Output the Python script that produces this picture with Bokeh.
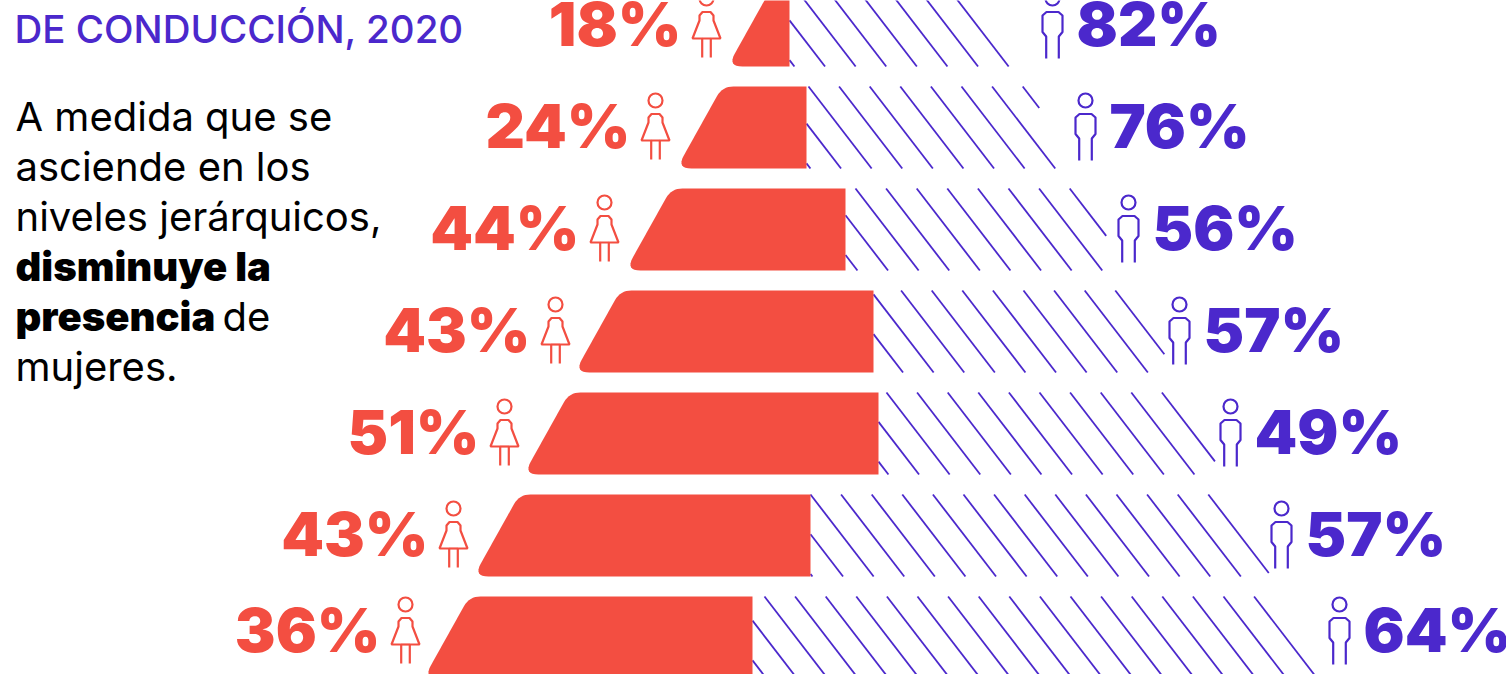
import math
from bokeh.plotting import figure
from bokeh.embed import file_html
from bokeh.resources import INLINE
from bokeh.core.properties import value
from bokeh.models import Range1d

women_pct = ["18%", "24%", "44%", "43%", "51%", "43%", "36%"]
men_pct = ["82%", "76%", "56%", "57%", "49%", "57%", "64%"]
women_width = [57, 125, 215, 294, 350, 332, 324]
men_width = [226, 263, 278, 300, 343, 460, 573]
women_start = [732, 681, 630, 579, 528, 478, 428]
women_icon_x = [706, 655, 604, 555, 504, 453, 405]
men_icon_x = [1052, 1085, 1128, 1179, 1230, 1281, 1339]
hatch_start = [792, 808, 855, 870, 886, 810, 764]
label_shift = [0, 0, 0, 0, 0, 0, -6]
title_lines = ["DE CONDUCCIÓN, 2020"]

ROW0, STEP, H = -16, 102, 82
RED, BLUE = "#f34e41", "#4b28cc"
NUM_FONT = "Inter Black"
BODY_FONT = "Inter"
BOLD_FONT = "Inter Black"
NUM_SIZE, BODY_SIZE, TITLE_SIZE = 61, 40, 38.5
BASE = 0.38

p = figure(width=1506, height=674, output_backend="svg", toolbar_location=None,
           x_range=Range1d(0, 1506), y_range=Range1d(674, 0), min_border=0,
           outline_line_color=None)
p.axis.visible = False
p.grid.visible = False
p.background_fill_color = "white"


def rounded(verts, r):
    out_x, out_y = [], []
    n = len(verts)
    for i, (v, rad) in enumerate(zip(verts, r)):
        if rad == 0:
            out_x.append(v[0]); out_y.append(v[1]); continue
        a, b = verts[i - 1], verts[(i + 1) % n]
        la = math.dist(v, a); lb = math.dist(v, b)
        s = (v[0] + (a[0] - v[0]) * rad / la, v[1] + (a[1] - v[1]) * rad / la)
        e = (v[0] + (b[0] - v[0]) * rad / lb, v[1] + (b[1] - v[1]) * rad / lb)
        for k in range(9):
            t = k / 8
            out_x.append((1 - t) ** 2 * s[0] + 2 * t * (1 - t) * v[0] + t ** 2 * e[0])
            out_y.append((1 - t) ** 2 * s[1] + 2 * t * (1 - t) * v[1] + t ** 2 * e[1])
    return out_x, out_y


SLOPE, HATCH_SLOPE, HATCH_GAP = 0.56, 0.77, 30.6
bx, by, hx, hy = [], [], [], []
for i in range(7):
    top = ROW0 + STEP * i
    bot = top + H
    left = women_start[i]
    split = left + women_width[i]
    end = split + men_width[i]
    raw_left = left - 5
    xs, ys = rounded([(raw_left + SLOPE * H, top), (split, top), (split, bot), (raw_left, bot)],
                     [11, 0, 0, 15])
    bx.append(xs); by.append(ys)
    x0 = hatch_start[i] - HATCH_GAP * 3
    while x0 < end:
        ya, yb = top, bot
        if x0 < split:
            ya = top + (split - x0) / HATCH_SLOPE
        c = (end - 0.5 * H - x0) / (HATCH_SLOPE - 0.5)
        yb = min(yb, top + c)
        if yb > ya:
            hx.append([x0 + HATCH_SLOPE * (ya - top), x0 + HATCH_SLOPE * (yb - top)])
            hy.append([ya, yb])
        x0 += HATCH_GAP

p.multi_line(hx, hy, line_color=BLUE, line_width=1.8)
p.patches(bx, by, fill_color=RED, line_color=None)

woman = [(-4.3, 73), (-4.3, 54), (-14, 54), (-7, 36), (-7, 31), (-4, 27.5), (4, 27.5), (7, 31), (7, 36), (14, 54), (4.3, 54), (4.3, 73)]
woman_skirt = [(-4.3, 54), (4.3, 54)]
man = [(-6.3, 74), (-6.3, 52), (-10, 47.5), (-10, 31), (-6, 27.5), (6, 27.5), (10, 31), (10, 47.5), (6.3, 52), (6.3, 74)]

tops = [ROW0 + STEP * i + label_shift[i] for i in range(7)]
LW = 2.2
p.multi_line([[cx + a for a, _ in woman] for cx in women_icon_x],
             [[t + b for _, b in woman] for t in tops], line_color=RED, line_width=LW)
p.multi_line([[cx + a for a, _ in woman_skirt] for cx in women_icon_x],
             [[t + b for _, b in woman_skirt] for t in tops], line_color=RED, line_width=LW)
p.scatter(women_icon_x, [t + 14 for t in tops], size=14, marker="circle", fill_color=None,
          line_color=RED, line_width=LW)
p.multi_line([[cx + a for a, _ in man] for cx in men_icon_x],
             [[t + b for _, b in man] for t in tops], line_color=BLUE, line_width=LW)
p.scatter(men_icon_x, [t + 14 for t in tops], size=14, marker="circle", fill_color=None,
          line_color=BLUE, line_width=LW)

ny = [t + 63 - BASE * NUM_SIZE for t in tops]
p.text([cx - 25 for cx in women_icon_x], ny, text=women_pct, text_color=RED,
       text_font=value(NUM_FONT), text_font_size=f"{NUM_SIZE}px", text_align="right", text_baseline="alphabetic")
p.text([cx + 24 for cx in men_icon_x], ny, text=men_pct, text_color=BLUE,
       text_font=value(NUM_FONT), text_font_size=f"{NUM_SIZE}px", text_align="left", text_baseline="alphabetic")

p.text([14], [43 - BASE * TITLE_SIZE], text=title_lines, text_color=BLUE, text_font=value("Inter Medium"),
       text_font_size=f"{TITLE_SIZE}px", text_baseline="alphabetic")

by0 = BASE * BODY_SIZE
p.text([15, 15, 15, 15], [131 - by0, 181 - by0, 231 - by0, 381 - by0],
       text=["A medida que se", "asciende en los", "niveles jerárquicos,", "mujeres."],
       text_color="black", text_font=value(BODY_FONT), text_font_size=f"{BODY_SIZE}px", text_baseline="alphabetic")
p.text([222], [331 - by0], text=["de"], text_color="black", text_font=value(BODY_FONT),
       text_font_size=f"{BODY_SIZE}px", text_baseline="alphabetic")
p.text([15, 15], [281 - by0, 331 - by0], text=["disminuye la", "presencia"], text_color="black",
       text_font=value(BOLD_FONT), text_font_size=f"{BODY_SIZE}px", text_baseline="alphabetic")

open("out.html", "w").write(file_html(p, INLINE))
